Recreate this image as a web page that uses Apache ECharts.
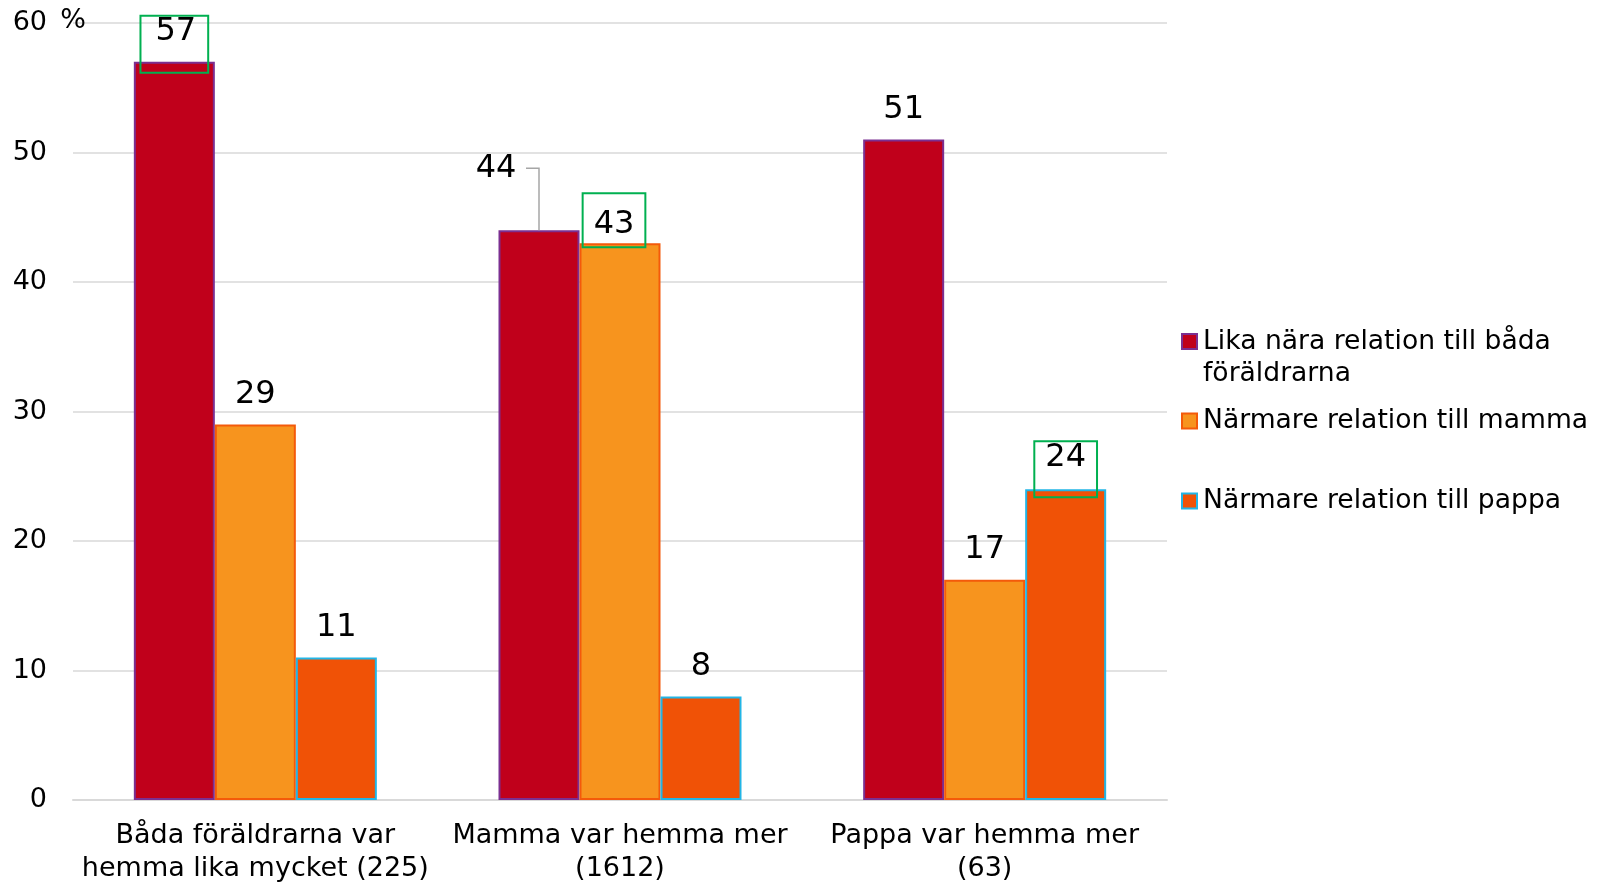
<!DOCTYPE html>
<html>
<head>
<meta charset="utf-8">
<script src="https://cdn.jsdelivr.net/npm/echarts@6/dist/echarts.min.js"></script>
<style>
html,body{margin:0;padding:0;background:#fff;}
#c{width:1610px;height:884px;}
</style>
</head>
<body>
<div id="c"></div>
<script>
const categories = ['Båda föräldrarna var\nhemma lika mycket (225)', 'Mamma var hemma mer\n(1612)', 'Pappa var hemma mer\n(63)'];
const seriesNames = ['Lika nära relation till båda föräldrarna', 'Närmare relation till mamma', 'Närmare relation till pappa'];
const likaNara = [57, 44, 51];
const narmareMamma = [29, 43, 17];
const narmarePappa = [11, 8, 24];
const yTicks = [0, 10, 20, 30, 40, 50, 60];

const FONT = 'DejaVu Sans';
const fills = ['#C0001B', '#F7941E', '#F05206'];
const borders = ['#7B2F91', '#F45A0A', '#22B5E6'];
const BAR_W = 81;
const LABEL_DIST = 14;
const LABEL_FS = 32;

// highlighted (boxed) labels: [seriesIndex-dataIndex] -> label style
const boxStyles = {
  '0-0': {padding: [0, 12, 25, 15], distance: -11},
  '1-1': {padding: [16, 11, 6, 11], distance: -4, offset: [-6, 0]},
  '2-2': {padding: [0, 11, 24, 11], distance: -8}
};
// moved label (with leader line)
const movedLabel = {series: 0, index: 1, dx: -43, dy: -32};

function buildData(vals, si) {
  return vals.map((v, di) => {
    const key = si + '-' + di;
    const item = {value: v};
    if (boxStyles[key]) {
      item.label = Object.assign({borderColor: '#00B050', borderWidth: 2}, boxStyles[key]);
    }
    return item;
  });
}

const seriesVals = [likaNara, narmareMamma, narmarePappa];

const chart = echarts.init(document.getElementById('c'), null, {renderer: 'canvas'});

const legendIconTop = 'path://M0,8L15,8L15,23L0,23Z M0,0 M0,64';
const legendText = {fontFamily: FONT, fontSize: 26.6, color: '#000', lineHeight: 32, padding: [0, 0, 0, 1]};

chart.setOption({
  animation: false,
  textStyle: {fontFamily: FONT},
  grid: {left: 73, right: 443, top: 23, bottom: 84, containLabel: false, outerBoundsMode: 'none'},
  legend: [
    {data: [seriesNames[0]], left: 1181, top: 325, orient: 'vertical', padding: 0,
     itemWidth: 15, itemHeight: 64, itemGap: 0, icon: legendIconTop,
     formatter: () => 'Lika nära relation till båda\nföräldrarna',
     textStyle: legendText},
    {data: [seriesNames[1]], left: 1181, top: 405, padding: 0, itemWidth: 15, itemHeight: 15, icon: 'rect',
     textStyle: legendText},
    {data: [seriesNames[2]], left: 1181, top: 485, padding: 0, itemWidth: 15, itemHeight: 15, icon: 'rect',
     textStyle: legendText}
  ],
  xAxis: {
    type: 'category',
    data: categories,
    axisLine: {lineStyle: {color: '#D9D9D9', width: 2}},
    axisTick: {show: false},
    axisLabel: {fontFamily: FONT, fontSize: 27, color: '#000', lineHeight: 33, margin: 19, interval: 0}
  },
  yAxis: {
    type: 'value',
    min: yTicks[0], max: yTicks[yTicks.length - 1], interval: yTicks[1] - yTicks[0],
    name: '%',
    nameLocation: 'end',
    nameGap: 2,
    nameTextStyle: {fontFamily: FONT, fontSize: 27, color: '#000', align: 'center', verticalAlign: 'middle'},
    axisLine: {show: false},
    axisTick: {show: false},
    splitLine: {lineStyle: {color: '#D9D9D9', width: 1.5}},
    axisLabel: {fontFamily: FONT, fontSize: 27, color: '#000', margin: 26}
  },
  series: seriesVals.map((vals, si) => ({
    name: seriesNames[si],
    type: 'bar',
    data: buildData(vals, si),
    barWidth: BAR_W,
    barGap: '0%',
    itemStyle: {color: fills[si], borderColor: borders[si], borderWidth: 2},
    label: {show: true, position: 'top', distance: LABEL_DIST, fontFamily: FONT, fontSize: LABEL_FS, lineHeight: LABEL_FS, color: '#000'},
    labelLayout: (si === movedLabel.series) ? function (p) {
      if (p.dataIndex === movedLabel.index) return {dx: movedLabel.dx, dy: movedLabel.dy};
      return {};
    } : undefined
  }))
});

// leader line for the moved label, positioned through the chart's own scales
(function () {
  const v = seriesVals[movedLabel.series][movedLabel.index];
  const p = chart.convertToPixel({xAxisIndex: 0, yAxisIndex: 0}, [movedLabel.index, v]);
  const nSeries = seriesVals.length;
  const barCx = p[0] + (movedLabel.series - (nSeries - 1) / 2) * BAR_W;
  const yTop = p[1];
  const labelCy = yTop - LABEL_DIST - LABEL_FS / 2 + movedLabel.dy;
  chart.setOption({
    graphic: [{
      type: 'polyline',
      shape: {points: [[barCx, yTop], [barCx, labelCy], [barCx - 13, labelCy]]},
      style: {stroke: '#A6A6A6', lineWidth: 1.5, fill: null},
      z: 10
    }]
  });
})();
</script>
</body>
</html>
